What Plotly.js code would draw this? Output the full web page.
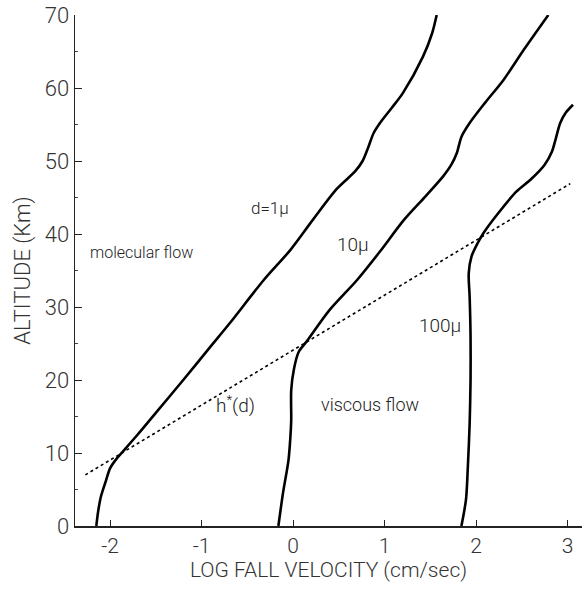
<!DOCTYPE html>
<html>
<head>
<meta charset="utf-8">
<script src="https://cdn.plot.ly/plotly-3.0.1.min.js"></script>
<style>html,body{margin:0;padding:0;background:#fff;}#chart{width:582px;height:590px;}</style>
</head>
<body>
<div id="chart"></div>
<script>
// d = 1 micron
const x1 = [-2.15, -2.13, -2.10, -2.05, -2.00, -1.93, -1.86, -1.70, -1.50, -1.20, -0.90, -0.69, -0.32, -0.03, 0.22, 0.48, 0.68, 0.76, 0.82, 0.88, 0.95, 1.08, 1.20, 1.42, 1.52, 1.57];
const y1 = [0, 2, 4, 6, 7.9, 9.2, 10.2, 12.5, 15.5, 20, 24.6, 27.8, 33.7, 37.8, 42.0, 46.2, 48.6, 50.0, 51.8, 53.8, 55.2, 57.3, 59.3, 64.3, 67.5, 70];
// d = 10 micron
const x10 = [-0.16, -0.11, -0.05, -0.03, -0.02, -0.02, 0.01, 0.06, 0.15, 0.40, 0.70, 0.95, 1.21, 1.45, 1.64, 1.73, 1.79, 1.84, 1.93, 2.10, 2.30, 2.52, 2.79];
const y10 = [0, 4.5, 9, 12, 14.5, 18.6, 21.5, 23.8, 25.3, 29.6, 33.7, 37.6, 41.9, 45.2, 47.9, 49.5, 51.1, 53.3, 55.2, 58.0, 61.1, 65.2, 70];
// d = 100 micron
const x100 = [1.84, 1.89, 1.91, 1.93, 1.94, 1.94, 1.93, 1.92, 1.95, 2.02, 2.08, 2.24, 2.44, 2.60, 2.75, 2.83, 2.87, 2.92, 2.98, 3.06];
const y100 = [0, 3.6, 8, 14, 20, 26, 31.4, 34.6, 36.9, 38.8, 40.1, 42.8, 45.8, 47.5, 49.5, 51.3, 53.0, 55.2, 56.6, 57.7];
// h*(d) boundary
const xh = [-2.27, 3.03];
const yh = [7.0, 46.9];

const xTicks = [-2, -1, 0, 1, 2, 3];
const xTickText = ['-2', '-1', '0', '1', '2', '3'];
const yTicks = [0, 10, 20, 30, 40, 50, 60, 70];

const labels = [
  {text: 'molecular flow', x: -2.24, y: 37.5, xanchor: 'left', size: 16},
  {text: 'd=1μ', x: -0.25, y: 43.5, xanchor: 'center', size: 17},
  {text: '10μ', x: 0.46, y: 38.5, xanchor: 'left', size: 19},
  {text: '100μ', x: 1.36, y: 27.5, xanchor: 'left', size: 19},
  {text: 'h<sup>*</sup>(d)', x: -0.63, y: 16.6, xanchor: 'center', size: 19},
  {text: 'viscous flow', x: 0.28, y: 16.6, xanchor: 'left', size: 18}
];

const FONT = 'Roboto, "Liberation Sans", Arial, sans-serif';
const lineStyle = {color: '#000', width: 2.6, shape: 'spline', smoothing: 0.8};

const traces = [
  {x: x1, y: y1, mode: 'lines', line: lineStyle, hoverinfo: 'skip'},
  {x: x10, y: y10, mode: 'lines', line: lineStyle, hoverinfo: 'skip'},
  {x: x100, y: y100, mode: 'lines', line: lineStyle, hoverinfo: 'skip'},
  {x: xh, y: yh, mode: 'lines', line: {color: '#000', width: 1.6, dash: 'dot'}, hoverinfo: 'skip'}
];

const layout = {
  width: 582, height: 590,
  margin: {l: 75, r: 0, t: 15, b: 64},
  paper_bgcolor: '#fff', plot_bgcolor: '#fff',
  showlegend: false,
  font: {family: FONT, color: '#222', weight: 300},
  xaxis: {
    range: [-2.383, 3.158],
    tickvals: xTicks, ticktext: xTickText,
    ticks: 'inside', ticklen: 6, tickwidth: 1, tickcolor: '#222',
    showline: true, linecolor: '#222', linewidth: 1.5,
    showgrid: false, zeroline: false,
    tickfont: {size: 21, family: FONT, color: '#333', weight: 300},
    title: {text: 'LOG FALL VELOCITY (cm/sec)', font: {size: 21, family: FONT, color: '#333', weight: 300}, standoff: 2}
  },
  yaxis: {
    range: [0, 70],
    tickvals: yTicks,
    ticks: 'inside', ticklen: 7, tickwidth: 1, tickcolor: '#222',
    minor: {dtick: 5, ticks: 'inside', ticklen: 3, tickcolor: '#444'},
    showline: true, linecolor: '#222', linewidth: 1.5,
    showgrid: false, zeroline: false,
    tickfont: {size: 22, family: FONT, color: '#333', weight: 300},
    title: {text: 'ALTITUDE (Km)', font: {size: 22, family: FONT, color: '#333', weight: 300}, standoff: 8}
  },
  annotations: labels.map(l => ({
    text: l.text, x: l.x, y: l.y, xref: 'x', yref: 'y',
    xanchor: l.xanchor, yanchor: 'middle', showarrow: false,
    font: {size: l.size, family: FONT, color: '#222', weight: 300}
  }))
};

Plotly.newPlot('chart', traces, layout, {displayModeBar: false, staticPlot: true});
</script>
</body>
</html>
